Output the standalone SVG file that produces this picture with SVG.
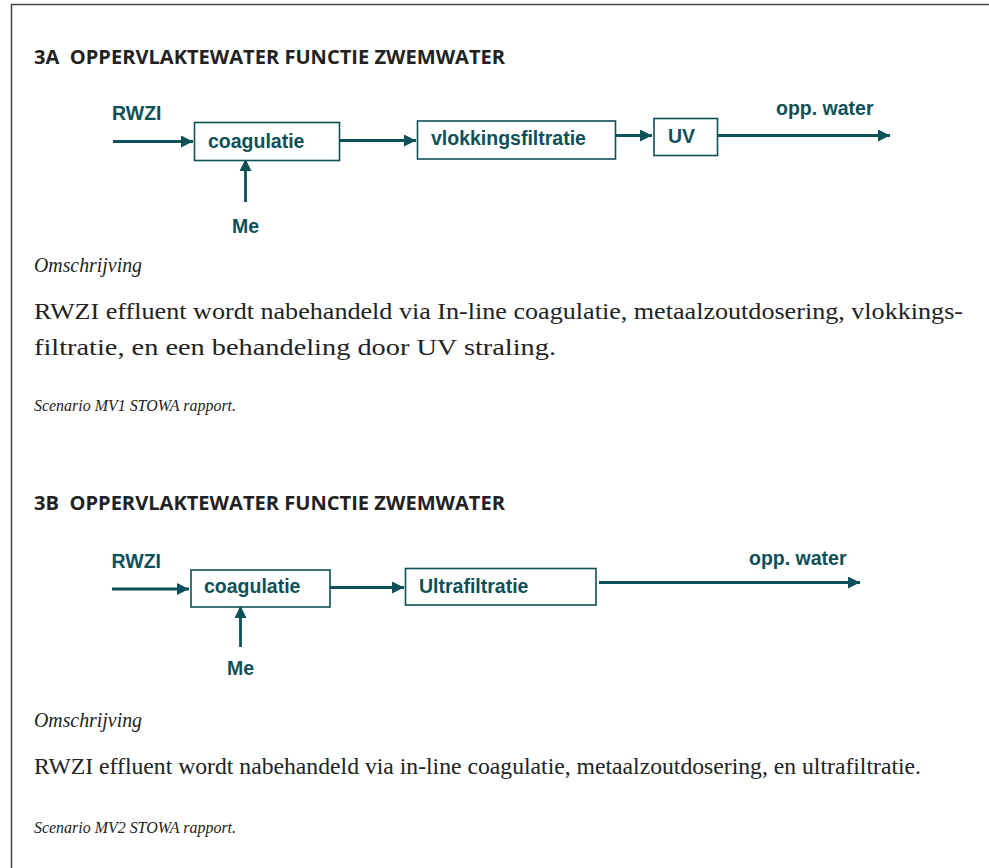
<svg xmlns="http://www.w3.org/2000/svg" width="989" height="868" viewBox="0 0 989 868">
<style>
.frame{fill:none;stroke:#444;stroke-width:1.5}
.title{font-family:"Open Sans","DejaVu Sans",sans-serif;font-weight:bold;font-size:19.5px;fill:#222;white-space:pre}
.lbl{font-family:"Liberation Sans",Arial,sans-serif;font-weight:bold;font-size:19.5px;fill:#0d5058}
.box{fill:#fff;stroke:#0d5058;stroke-width:1.6}
.con{stroke:#0d5058;stroke-width:2.8;fill:none;marker-end:url(#ah)}
.it{font-family:"Liberation Serif","Times New Roman",serif;font-style:italic;font-size:20px;fill:#222}
.itsm{font-family:"Liberation Serif","Times New Roman",serif;font-style:italic;font-size:17px;fill:#222}
.body{font-family:"Liberation Serif","Times New Roman",serif;font-size:24px;fill:#222}
</style>
<defs>
<marker id="ah" markerUnits="userSpaceOnUse" markerWidth="14" markerHeight="12" refX="12" refY="6" orient="auto">
<path d="M0,0 L12,6 L0,12 Z" fill="#0d5058"/>
</marker>
</defs>
<rect width="989" height="868" fill="#fff"/>
<path class="frame" d="M11.5,868 V4.5 H989"/>

<text class="title" x="34" y="64" textLength="471" lengthAdjust="spacingAndGlyphs" xml:space="preserve">3A  OPPERVLAKTEWATER FUNCTIE ZWEMWATER</text>

<g id="connectors-3a">
<line class="con" x1="113" y1="141.5" x2="193" y2="141.5"/>
<line class="con" x1="245.5" y1="202" x2="245.5" y2="159"/>
<line class="con" x1="337" y1="140.5" x2="416" y2="140.5"/>
<line class="con" x1="616" y1="135.5" x2="652" y2="135.5"/>
<line class="con" x1="718" y1="135.5" x2="890" y2="135.5"/>
</g>
<g id="n3a-rwzi"><text class="lbl" x="112" y="120">RWZI</text></g>
<g id="n3a-coag"><rect class="box" x="194.5" y="122.5" width="145" height="38"/><text class="lbl" x="208" y="148">coagulatie</text></g>
<g id="n3a-me"><text class="lbl" x="232" y="233">Me</text></g>
<g id="n3a-vlok"><rect class="box" x="417.5" y="121" width="198" height="38"/><text class="lbl" x="431" y="145">vlokkingsfiltratie</text></g>
<g id="n3a-uv"><rect class="box" x="654" y="118.5" width="63.5" height="37"/><text class="lbl" x="668" y="143">UV</text></g>
<g id="n3a-out"><text class="lbl" x="776" y="115">opp. water</text></g>

<text class="it" x="34" y="272" textLength="108" lengthAdjust="spacingAndGlyphs">Omschrijving</text>
<text class="body" x="34" y="319" textLength="929" lengthAdjust="spacingAndGlyphs">RWZI effluent wordt nabehandeld via In-line coagulatie, metaalzoutdosering, vlokkings-</text>
<text class="body" x="34" y="355" textLength="522" lengthAdjust="spacingAndGlyphs">filtratie, en een behandeling door UV straling.</text>
<text class="itsm" x="34" y="411" textLength="202" lengthAdjust="spacingAndGlyphs">Scenario MV1 STOWA rapport.</text>

<text class="title" x="34" y="510" textLength="471" lengthAdjust="spacingAndGlyphs" xml:space="preserve">3B  OPPERVLAKTEWATER FUNCTIE ZWEMWATER</text>

<g id="connectors-3b">
<line class="con" x1="112" y1="589" x2="189" y2="589"/>
<line class="con" x1="240.5" y1="647" x2="240.5" y2="606"/>
<line class="con" x1="327" y1="587.5" x2="404" y2="587.5"/>
<line class="con" x1="599" y1="582.5" x2="860" y2="582.5"/>
</g>
<g id="n3b-rwzi"><text class="lbl" x="111.5" y="568">RWZI</text></g>
<g id="n3b-coag"><rect class="box" x="191" y="570" width="139" height="37"/><text class="lbl" x="204" y="593">coagulatie</text></g>
<g id="n3b-me"><text class="lbl" x="227" y="675">Me</text></g>
<g id="n3b-uf"><rect class="box" x="405.5" y="568.5" width="190.5" height="36.5"/><text class="lbl" x="419" y="592.5">Ultrafiltratie</text></g>
<g id="n3b-out"><text class="lbl" x="749" y="565">opp. water</text></g>

<text class="it" x="34" y="727" textLength="108" lengthAdjust="spacingAndGlyphs">Omschrijving</text>
<text class="body" x="34" y="774" textLength="887" lengthAdjust="spacingAndGlyphs">RWZI effluent wordt nabehandeld via in-line coagulatie, metaalzoutdosering, en ultrafiltratie.</text>
<text class="itsm" x="34" y="833" textLength="202" lengthAdjust="spacingAndGlyphs">Scenario MV2 STOWA rapport.</text>
</svg>
